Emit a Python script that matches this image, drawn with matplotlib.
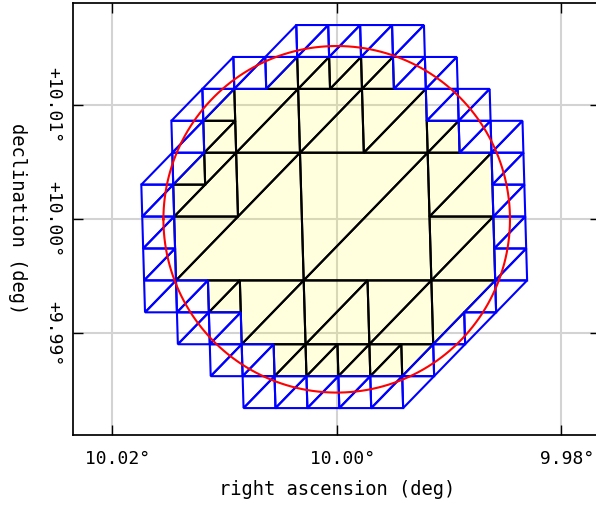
import numpy as np
import matplotlib
matplotlib.use('Agg')
import matplotlib.pyplot as plt
from matplotlib.patches import Polygon

RA0, DEC0 = 10.0, 10.0
RADIUS = 0.0152          # search radius (deg)
ra_ticks = [10.02, 10.00, 9.98]
dec_ticks = [9.99, 10.00, 10.01]

# mesh cells as (column, row, half) on the finest grid, 'U' = upper-left half, 'L' = lower-right half
big_black = [(1, 4, 'L'), (5, 4, 'U'), (5, 4, 'L')]
mid_black = [(3, 2, 'U'), (3, 2, 'L'), (5, 2, 'U'), (5, 2, 'L'), (7, 2, 'U'), (7, 2, 'L'),
             (1, 4, 'L'), (3, 4, 'U'), (9, 4, 'U'), (9, 4, 'L'),
             (1, 6, 'U'), (9, 6, 'U'), (9, 6, 'L'),
             (3, 8, 'U'), (3, 8, 'L'), (5, 8, 'U'), (5, 8, 'L'), (7, 8, 'U'), (7, 8, 'L'), (9, 8, 'U')]
small_black = [(4, 1, 'L'), (5, 1, 'U'), (5, 1, 'L'), (6, 1, 'U'), (6, 1, 'L'), (7, 1, 'U'), (7, 1, 'L'),
               (2, 2, 'L'), (2, 3, 'U'), (2, 3, 'L'), (9, 3, 'U'), (9, 3, 'L'),
               (1, 4, 'L'), (2, 4, 'U'), (1, 5, 'U'), (2, 8, 'U'), (2, 8, 'L'),
               (4, 10, 'U'), (4, 10, 'L'), (5, 10, 'U'), (5, 10, 'L'), (6, 10, 'U'), (6, 10, 'L'),
               (7, 10, 'U'), (7, 10, 'L'), (8, 10, 'U')]
small_blue = [(4, 0, 'L'), (5, 0, 'U'), (5, 0, 'L'), (6, 0, 'U'), (6, 0, 'L'), (7, 0, 'U'), (7, 0, 'L'),
              (8, 0, 'U'), (8, 0, 'L'),
              (2, 1, 'L'), (3, 1, 'U'), (3, 1, 'L'), (4, 1, 'U'), (8, 1, 'U'), (8, 1, 'L'), (9, 1, 'U'), (9, 1, 'L'),
              (1, 2, 'L'), (2, 2, 'U'), (9, 2, 'U'), (9, 2, 'L'), (10, 2, 'U'), (10, 2, 'L'),
              (1, 3, 'U'), (1, 3, 'L'), (10, 3, 'U'), (10, 3, 'L'), (11, 3, 'U'), (11, 3, 'L'),
              (0, 4, 'L'), (1, 4, 'U'), (11, 4, 'U'), (11, 4, 'L'),
              (0, 5, 'U'), (0, 5, 'L'), (11, 5, 'U'), (11, 5, 'L'),
              (0, 6, 'U'), (0, 6, 'L'), (11, 6, 'U'), (11, 6, 'L'),
              (0, 7, 'U'), (0, 7, 'L'), (11, 7, 'U'), (11, 7, 'L'),
              (0, 8, 'U'), (0, 8, 'L'), (1, 8, 'U'), (1, 8, 'L'), (10, 8, 'L'), (11, 8, 'U'),
              (1, 9, 'U'), (1, 9, 'L'), (2, 9, 'U'), (2, 9, 'L'), (9, 9, 'L'), (10, 9, 'U'),
              (2, 10, 'U'), (2, 10, 'L'), (3, 10, 'U'), (3, 10, 'L'), (8, 10, 'L'), (9, 10, 'U'),
              (3, 11, 'U'), (3, 11, 'L'), (4, 11, 'U'), (4, 11, 'L'), (5, 11, 'U'), (5, 11, 'L'),
              (6, 11, 'U'), (6, 11, 'L'), (7, 11, 'U'), (7, 11, 'L'), (8, 11, 'U')]

# mesh geometry, tangent-plane offsets in degrees
STEP = 0.0028
XI0, ETA0 = 0.01706, 0.01704
SHEAR = 0.029
COS0 = np.cos(np.radians(DEC0))


def node(i, j):
    eta = ETA0 - STEP * j
    xi = XI0 - STEP * i + SHEAR * (eta - 0.00029)
    return (xi, eta)


def corners(a, b, s, half):
    if half == 'U':
        return [node(a, b), node(a + s, b), node(a, b + s)]
    return [node(a + s, b), node(a + s, b + s), node(a, b + s)]


fig = plt.figure(figsize=(5.96, 5.07), dpi=100)
ax = fig.add_axes([73 / 596, 72 / 507, 527.4 / 596, 432 / 507])

for size, cells in ((4, big_black), (2, mid_black), (1, small_black)):
    for a, b, half in cells:
        pts = corners(a, b, size, half)
        ax.add_patch(Polygon(pts, closed=True, facecolor='yellow', alpha=0.13, edgecolor='none', zorder=2))
        ax.add_patch(Polygon(pts, closed=True, fill=False, edgecolor='black', lw=1.5, zorder=3))
for a, b, half in small_blue:
    ax.add_patch(Polygon(corners(a, b, 1, half), closed=True, fill=False, edgecolor='blue', lw=1.5, zorder=4))

t = np.linspace(0, 2 * np.pi, 400)
ax.plot(RADIUS * np.cos(t), RADIUS * np.sin(t), color='red', lw=1.5, zorder=5)

ax.set_xlim(0.023132, -0.023132)
ax.set_ylim(-0.018921, 0.018974)
ax.set_xticks([(r - RA0) * COS0 for r in ra_ticks])
ax.set_xticklabels([' %.2f°' % r for r in ra_ticks])
ax.set_yticks([d - DEC0 for d in dec_ticks])
ax.set_yticklabels(['%+.2f°' % d for d in dec_ticks])
ax.grid(True, color='#d3d3d3', lw=1.5, zorder=0)
ax.set_axisbelow(True)
ax.tick_params(direction='in', length=7.2, width=1, top=True, right=True, labelsize=13)
ax.tick_params(axis='x', pad=11)
ax.tick_params(axis='y', pad=8)
for lab in ax.get_xticklabels() + ax.get_yticklabels():
    lab.set_family('DejaVu Sans Mono')
for lab in ax.get_yticklabels():
    lab.set_rotation(-90)
    lab.set_va('center')
for sp in ax.spines.values():
    sp.set_linewidth(1.25)

ax.set_xlabel('right ascension (deg)', family='DejaVu Sans Mono', fontsize=13.5, va='center')
ax.xaxis.set_label_coords(0.5, -0.127)
ax.set_ylabel('declination (deg)', family='DejaVu Sans Mono', fontsize=13.5, rotation=-90, va='center', ha='center')
ax.yaxis.set_label_coords(-0.105, 0.5)

fig.savefig('out.png', dpi=100)
